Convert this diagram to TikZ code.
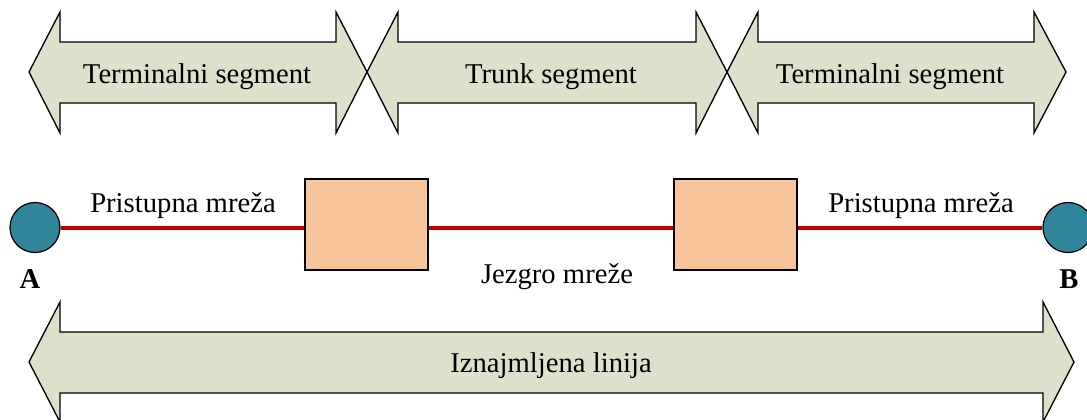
\documentclass[tikz,border=0pt]{standalone}
\usepackage{fontspec}
\setmainfont{Liberation Serif}
\definecolor{arrfill}{RGB}{221,224,203}
\definecolor{nodeteal}{RGB}{49,133,155}
\definecolor{boxpeach}{RGB}{248,196,156}
\definecolor{linkred}{RGB}{192,0,0}
\tikzset{
  bigarrow/.style={draw=black, fill=arrfill, line width=1pt, line join=miter},
  endpoint/.style={circle, draw=black, fill=nodeteal, line width=0.9pt, minimum size=37.5pt, inner sep=0pt},
  switchbox/.style={rectangle, draw=black, fill=boxpeach, line width=1.2pt, minimum width=92.25pt, minimum height=68.25pt, inner sep=0pt},
  link/.style={draw=linkred, line width=3pt},
  lbl/.style={font=\fontsize{21.5}{25}\selectfont, anchor=base, inner sep=0pt},
  endlbl/.style={font=\fontsize{21.5}{25}\selectfont\bfseries, anchor=base, inner sep=0pt}
}
\begin{document}
\begin{tikzpicture}[x=0.75pt, y=-0.75pt]
\useasboundingbox (0,0) rectangle (1087,419);
% top segment arrows
\draw[bigarrow] (29,72) -- (60,12) -- (60,42) -- (336,42) -- (336,12) -- (367,72) -- (336,133) -- (336,103) -- (60,103) -- (60,133) -- cycle;
\draw[bigarrow] (367,72) -- (398,12) -- (398,42) -- (696,42) -- (696,12) -- (727,72) -- (696,133) -- (696,103) -- (398,103) -- (398,133) -- cycle;
\draw[bigarrow] (727,72) -- (758,12) -- (758,42) -- (1034,42) -- (1034,12) -- (1066,72) -- (1034,133) -- (1034,103) -- (758,103) -- (758,133) -- cycle;
% bottom arrow
\draw[bigarrow] (29,362) -- (60,302) -- (60,332) -- (1043,332) -- (1043,302) -- (1074,362) -- (1043,422) -- (1043,393) -- (60,393) -- (60,422) -- cycle;
\node[lbl] (t1) at (197,83) {Terminalni segment};
\node[lbl] (t2) at (551,83) {Trunk segment};
\node[lbl] (t3) at (890,83) {Terminalni segment};
\node[lbl] (il) at (551,372) {Iznajmljena linija};
% network
\node[endpoint] (A) at (35,227.5) {};
\node[endpoint] (B) at (1068,227.5) {};
\node[switchbox] (s1) at (366.5,224.5) {};
\node[switchbox] (s2) at (735.5,224.5) {};
\draw[link] (A.east) -- (A.east -| s1.west);
\draw[link] (A.east -| s1.east) -- (A.east -| s2.west);
\draw[link] (A.east -| s2.east) -- (B.west);
\node[lbl] (pm1) at (183,212) {Pristupna mreža};
\node[lbl] (pm2) at (921,212) {Pristupna mreža};
\node[lbl] (jm) at (557,283) {Jezgro mreže};
\node[endlbl] (la) at (30,288) {A};
\node[endlbl] (lb) at (1069,288) {B};
\end{tikzpicture}
\end{document}
